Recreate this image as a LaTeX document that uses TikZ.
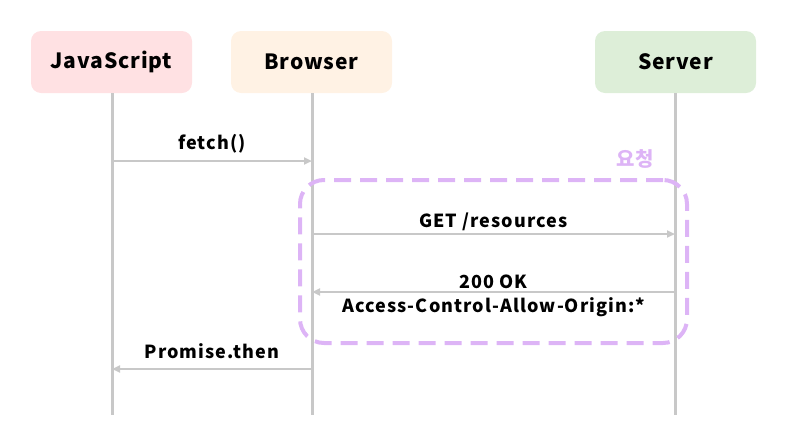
\documentclass[tikz,border=0pt]{standalone}
\usepackage{fontspec}
\setmainfont{Noto Sans CJK KR}
\newfontfamily\hfont{Noto Sans CJK KR}[LetterSpace=4]
\newfontfamily\lfont{Noto Sans CJK KR}[LetterSpace=6]
\usetikzlibrary{arrows.meta}
\definecolor{jsfill}{HTML}{FFE1E3}
\definecolor{brfill}{HTML}{FFF2E4}
\definecolor{svfill}{HTML}{DDEED8}
\definecolor{lifegray}{HTML}{C8C8C8}
\definecolor{lav}{HTML}{DDB4F6}
\begin{document}
\begin{tikzpicture}[x=1pt,y=-1pt,
  actor/.style={rounded corners=10pt, minimum width=161pt, minimum height=62pt, inner sep=0pt, font=\hfont\fontsize{21}{24}\selectfont\bfseries},
  life/.style={draw=lifegray, line width=3pt},
  msg/.style={draw=lifegray, line width=2.5pt, -{Triangle[length=8pt,width=7pt]}},
  lbl/.style={font=\lfont\fontsize{18}{20}\selectfont\bfseries, inner sep=0pt}]
\useasboundingbox (0,0) rectangle (794,445);
\node[actor, fill=jsfill] (js) at (111.5,62) {JavaScript};
\node[actor, fill=brfill] (br) at (311.5,62) {Browser};
\node[actor, fill=svfill] (sv) at (675.5,62) {Server};
\coordinate (jsend) at (112,415);
\coordinate (brend) at (312,415);
\coordinate (svend) at (675,415);
\draw[life] (js.south -| jsend) -- (jsend);
\draw[life] (br.south -| brend) -- (brend);
\draw[life] (sv.south -| svend) -- (svend);
% dashed group
\node[draw=lav, line width=4pt, dash pattern=on 17pt off 9pt, rounded corners=24pt, minimum width=387pt, minimum height=163pt, inner sep=0pt] (grp) at (493.5,261.5) {};
\node[text=lav, font=\fontsize{20}{24}\selectfont\bfseries, inner sep=0pt] (req) at (635,159) {요청};
% messages
\coordinate (a1) at (112,161); \coordinate (b1) at (312,161);
\draw[msg] (a1) -- node[lbl, above=7pt] (m1) {fetch()} (b1);
\coordinate (a2) at (312,234); \coordinate (b2) at (675,234);
\draw[msg] (a2) -- node[lbl, above=2pt] (m2) {GET /resources} (b2);
\coordinate (a3) at (675,292); \coordinate (b3) at (312,292);
\draw[msg] (a3) -- node[lbl, above=2pt] (m3) {200 OK} node[lbl, below=4pt] (m3b) {Access-Control-Allow-Origin:*} (b3);
\coordinate (a4) at (312,369); \coordinate (b4) at (112,369);
\draw[msg] (a4) -- node[lbl, above=9pt] (m4) {Promise.then} (b4);
\end{tikzpicture}
\end{document}
